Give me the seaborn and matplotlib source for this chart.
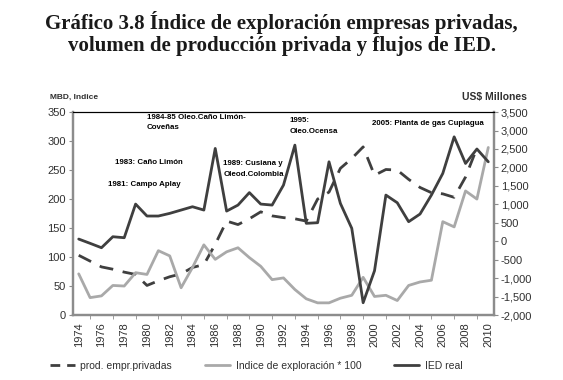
import numpy as np
import pandas as pd
import seaborn as sns
import matplotlib.pyplot as plt
from matplotlib.ticker import FuncFormatter, MultipleLocator

# data
years = list(range(1974, 2011))
prod = [103, 93, 83, 79, 74, 70, 51, 59, 66, 71, 82, 87, 122, 162, 156, 166, 178, 171, 168, 166,
        162, 200, 212, 253, 270, 290, 241, 251, 250, 234, 220, 211, 209, 203, 238, 288, np.nan]
explor = [71, 30, 33, 51, 50, 73, 70, 111, 102, 47, 82, 121, 96, 109, 116, 99, 84, 61, 64, 44,
          28, 21, 21, 29, 34, 65, 32, 34, 25, 51, 57, 60, 161, 152, 214, 200, 289]
ied = [59, -57, -176, 122, 95, 1007, 683, 683, 755, 845, 935, 845, 2515, 817, 980, 1318, 1007, 980, 1522, 2605,
       485, 502, 2153, 1025, 350, -1667, -800, 1251, 1043, 529, 737, 1251, 1838, 2830, 2108, 2500, 2153]

df = pd.DataFrame({'year': years, 'prod': prod, 'explor': explor, 'ied': ied})

sns.set_style('white')
plt.rcParams['font.family'] = ['Liberation Sans Narrow', 'Liberation Sans', 'DejaVu Sans']

dark = '#3f3f3f'
light = '#a9a9a9'
axcol = '#8c8c8c'

fig = plt.figure(figsize=(5.63, 3.80), dpi=100)
ax = fig.add_axes([0.1297, 0.171, 0.7477, 0.534])
ax2 = ax.twinx()

sns.lineplot(data=df, x='year', y='prod', ax=ax, color=dark, lw=2.0, label='prod. empr.privadas',
             legend=False)
ax.lines[-1].set_dashes([5, 3.5])
sns.lineplot(data=df, x='year', y='explor', ax=ax, color=light, lw=2.0,
             label='Indice de exploración * 100', legend=False)
sns.lineplot(data=df, x='year', y='ied', ax=ax2, color=dark, lw=2.0, label='IED real', legend=False)

ax.set_xlim(1973.5, 2010.5)
ax.set_ylim(0, 350)
ax2.set_ylim(-2000, 3500)
ax.yaxis.set_major_locator(MultipleLocator(50))
ax2.yaxis.set_major_locator(MultipleLocator(500))
ax2.yaxis.set_major_formatter(FuncFormatter(lambda v, p: f'{int(v):,}'))
ax.set_xticks(range(1974, 2011, 2))
ax.set_xticks(range(1974, 2011), minor=True)
ax.tick_params(axis='x', rotation=90)
ax.set_xlabel('')
ax.set_ylabel('')
ax2.set_ylabel('')

for a in (ax, ax2):
    for s in ('left', 'right', 'bottom'):
        a.spines[s].set_color(axcol)
        a.spines[s].set_linewidth(1.6)
    a.spines['top'].set_color('black')
    a.spines['top'].set_linewidth(0.8)
    a.tick_params(which='both', direction='out', length=3, color=axcol, labelsize=8,
                  labelcolor='#303030', pad=2)
ax.tick_params(which='minor', length=3, bottom=True)
ax.tick_params(axis='y', left=True)
ax2.tick_params(axis='y', right=True)
ax.grid(False)
ax2.grid(False)

serif = ['Liberation Serif', 'DejaVu Serif']
fig.text(0.5, 0.94, 'Gráfico 3.8 Índice de exploración empresas privadas,', ha='center', va='center',
         fontsize=15, fontweight='bold', family=serif, color='#1a1a1a')
fig.text(0.5, 0.878, 'volumen de producción privada y flujos de IED.', ha='center', va='center',
         fontsize=15, fontweight='bold', family=serif, color='#1a1a1a')

fig.text(0.089, 0.745, 'MBD, Indice', fontsize=6, fontweight='bold', color='#303030', va='center')
fig.text(0.879, 0.745, 'US$ Millones', fontsize=7.5, fontweight='bold', color='#303030', va='center',
         ha='center')

notes = [
    (1980.0, 347, '1984-85 Oleo.Caño Limón-\nCoveñas'),
    (1977.2, 269, '1983: Caño Limón'),
    (1976.6, 231, '1981: Campo Aplay'),
    (1986.7, 267, '1989: Cusiana y\nOleod.Colombia'),
    (1992.5, 341, '1995:\nOleo.Ocensa'),
    (1999.8, 336, '2005: Planta de gas Cupiagua'),
]
for x, y, t in notes:
    ax.text(x, y, t, fontsize=5.7, fontweight='bold', va='top', ha='left', color='black',
            linespacing=1.7)

h1, l1 = ax.get_legend_handles_labels()
h2, l2 = ax2.get_legend_handles_labels()
leg = fig.legend(h1 + h2, l1 + l2, loc='center', bbox_to_anchor=(0.455, 0.037), ncol=3, frameon=False,
                 fontsize=7.5, handlelength=2.4, handletextpad=0.5, columnspacing=3.2,
                 labelcolor='#303030')
leg.get_lines()[0].set_dashes([3.5, 2.5])

fig.savefig('out.png', dpi=100)
